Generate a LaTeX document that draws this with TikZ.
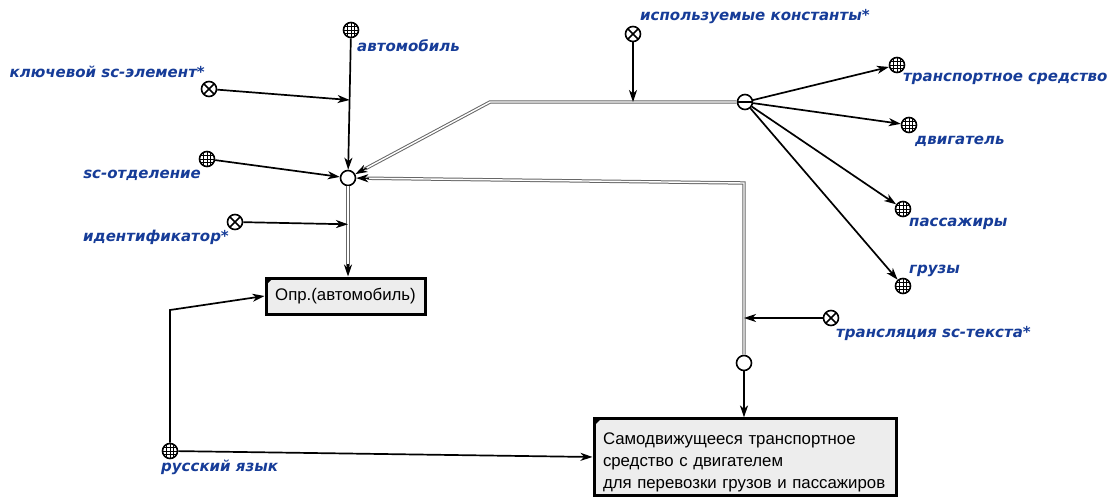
\documentclass[tikz,border=0pt]{standalone}
\usepackage{fontspec}
\setmainfont{Liberation Sans}
\newfontfamily\lblfont{DejaVu Sans}
\usetikzlibrary{arrows.meta,calc}
\definecolor{lblblue}{RGB}{22,60,152}
\tikzset{
  ln/.style={line width=1.7pt, draw=black},
  arr/.style={ln, -{Stealth[length=12pt,width=8pt,inset=3.5pt]}},
  tipo/.style={line width=1.4pt, draw=black, -{Stealth[length=12pt,width=8pt,inset=3.5pt]}},
  dbl/.style={draw=black!60, line width=1pt, double=white, double distance=1.4pt},
  cst/.style={circle, draw, line width=1.6pt, minimum size=15pt, inner sep=0pt, fill=white,
    path picture={
      \foreach \d in {-3.6,0,3.6}{
        \draw[line width=0.7pt] ([xshift=\d pt]path picture bounding box.north) -- ([xshift=\d pt]path picture bounding box.south);
        \draw[line width=0.7pt] ([yshift=\d pt]path picture bounding box.east) -- ([yshift=\d pt]path picture bounding box.west);
      }}},
  rel/.style={circle, draw, line width=1.6pt, minimum size=15pt, inner sep=0pt, fill=white,
    path picture={
      \draw[line width=1.5pt] (path picture bounding box.north west) -- (path picture bounding box.south east)
        (path picture bounding box.north east) -- (path picture bounding box.south west);}},
  hol/.style={circle, draw, line width=1.6pt, minimum size=15pt, inner sep=0pt, fill=white},
  mns/.style={circle, draw, line width=1.6pt, minimum size=15pt, inner sep=0pt, fill=white,
    path picture={\draw[line width=1.5pt] (path picture bounding box.west) -- (path picture bounding box.east);}},
  lbl/.style={inner sep=0pt, text=lblblue, font=\lblfont\bfseries\itshape\fontsize{15}{18}\selectfont},
  box/.style={draw, line width=3pt, fill=black!7, rectangle, font=\fontsize{16.8}{22}\selectfont}
}
\begin{document}
\begin{tikzpicture}[x=1pt,y=-1pt]
\fill[white] (0,0) rectangle (1120,503);
\useasboundingbox (0,0) rectangle (1120,503);

% nodes
\node[cst] (cAuto) at (351,30) {};
\node[rel] (rKey) at (209,89) {};
\node[cst] (cSc) at (207,159) {};
\node[rel] (rId) at (235,222) {};
\node[hol] (cen) at (348,178) {};
\node[box, minimum width=159pt, minimum height=36pt, inner sep=0pt] (b1) at (345.5,296) {Опр.(автомобиль)};
\node[cst] (cRus) at (170,451) {};
\node[box, text width=284pt, inner xsep=9pt, minimum height=74pt, align=left] (b2) at (745,457) {\rule{0pt}{22pt}Самодвижущееся транспортное\\средство с двигателем\\для перевозки грузов и пассажиров};
\node[hol] (s2) at (744,363) {};
\node[rel] (rTrans) at (831,318) {};
\node[rel] (rConst) at (633,34) {};
\node[mns] (mn) at (745,102) {};
\node[cst] (cTS) at (897,65) {};
\node[cst] (cEng) at (909,125) {};
\node[cst] (cPas) at (903,209) {};
\node[cst] (cCargo) at (903,286) {};

% corner markers
\fill ([shift={(1.5,1.5)}]b1.north west) -- ++(7,0) -- ++(-7,7) -- cycle;
\fill ([shift={(1.5,1.5)}]b2.north west) -- ++(7,0) -- ++(-7,7) -- cycle;

% labels
\node[lbl, anchor=west] (lAuto) at (357,46) {автомобиль};
\node[lbl, anchor=east] (lKey) at (205,72) {ключевой sc-элемент*};
\node[lbl, anchor=east] (lSc) at (201,175) {sc-отделение};
\node[lbl, anchor=east] (lId) at (229,237) {идентификатор*};
\node[lbl, anchor=west] (lRus) at (161,467) {русский язык};
\node[lbl, anchor=west] (lTrans) at (836,333) {трансляция sc-текста*};
\node[lbl, anchor=west] (lConst) at (640,17) {используемые константы*};
\node[lbl, anchor=west] (lTS) at (903,79) {транспортное средство};
\node[lbl, anchor=west] (lEng) at (915,141) {двигатель};
\node[lbl, anchor=west] (lPas) at (909,224) {пассажиры};
\node[lbl, anchor=west] (lCargo) at (909,271) {грузы};

% coordinates
\coordinate (jA) at ($(cAuto)!0.473!(cen)$);
\coordinate (b1in) at (cen |- b1.north);
\coordinate (jI) at ($(cen)!0.47!(b1in)$);
\coordinate (k1) at (490,102);
\coordinate (jC) at (rConst |- mn);
\coordinate (k2) at (744,183);
\coordinate (jT) at (s2 |- rTrans);
\coordinate (k3) at (170,310);
\coordinate (b1tip) at ($(b1in)+(0,-13)$);
\coordinate (t1) at ($(cen)!21pt!(k1)$);
\coordinate (t2) at ($(cen)!21pt!(k2)$);

% double connectors
\draw[dbl, shorten >=11pt] (cen) -- (b1in);
\draw[tipo] (b1tip) -- (b1in);
\draw[dbl, shorten >=11pt] (mn) -- (k1) -- (cen);
\draw[tipo] (t1) -- (cen);
\draw[dbl, shorten >=11pt] (s2) -- (k2) -- (cen);
\draw[tipo] (t2) -- (cen);

% solid connectors
\draw[arr] (cAuto) -- (cen);
\draw[arr] (rKey) -- (jA);
\draw[arr] (cSc) -- (cen);
\draw[arr] (rId) -- (jI);
\draw[arr] (rConst) -- (jC);
\draw[arr] (rTrans) -- (jT);
\draw[arr] (s2) -- (b2.north -| s2);
\draw[arr] (cRus) -- (b2.west);
\draw[arr] (cRus) -- (k3) -- (b1.west);
\draw[arr] (mn) -- (cTS);
\draw[arr] (mn) -- (cEng);
\draw[arr] (mn) -- (cPas);
\draw[arr] (mn) -- (cCargo);
\end{tikzpicture}
\end{document}
